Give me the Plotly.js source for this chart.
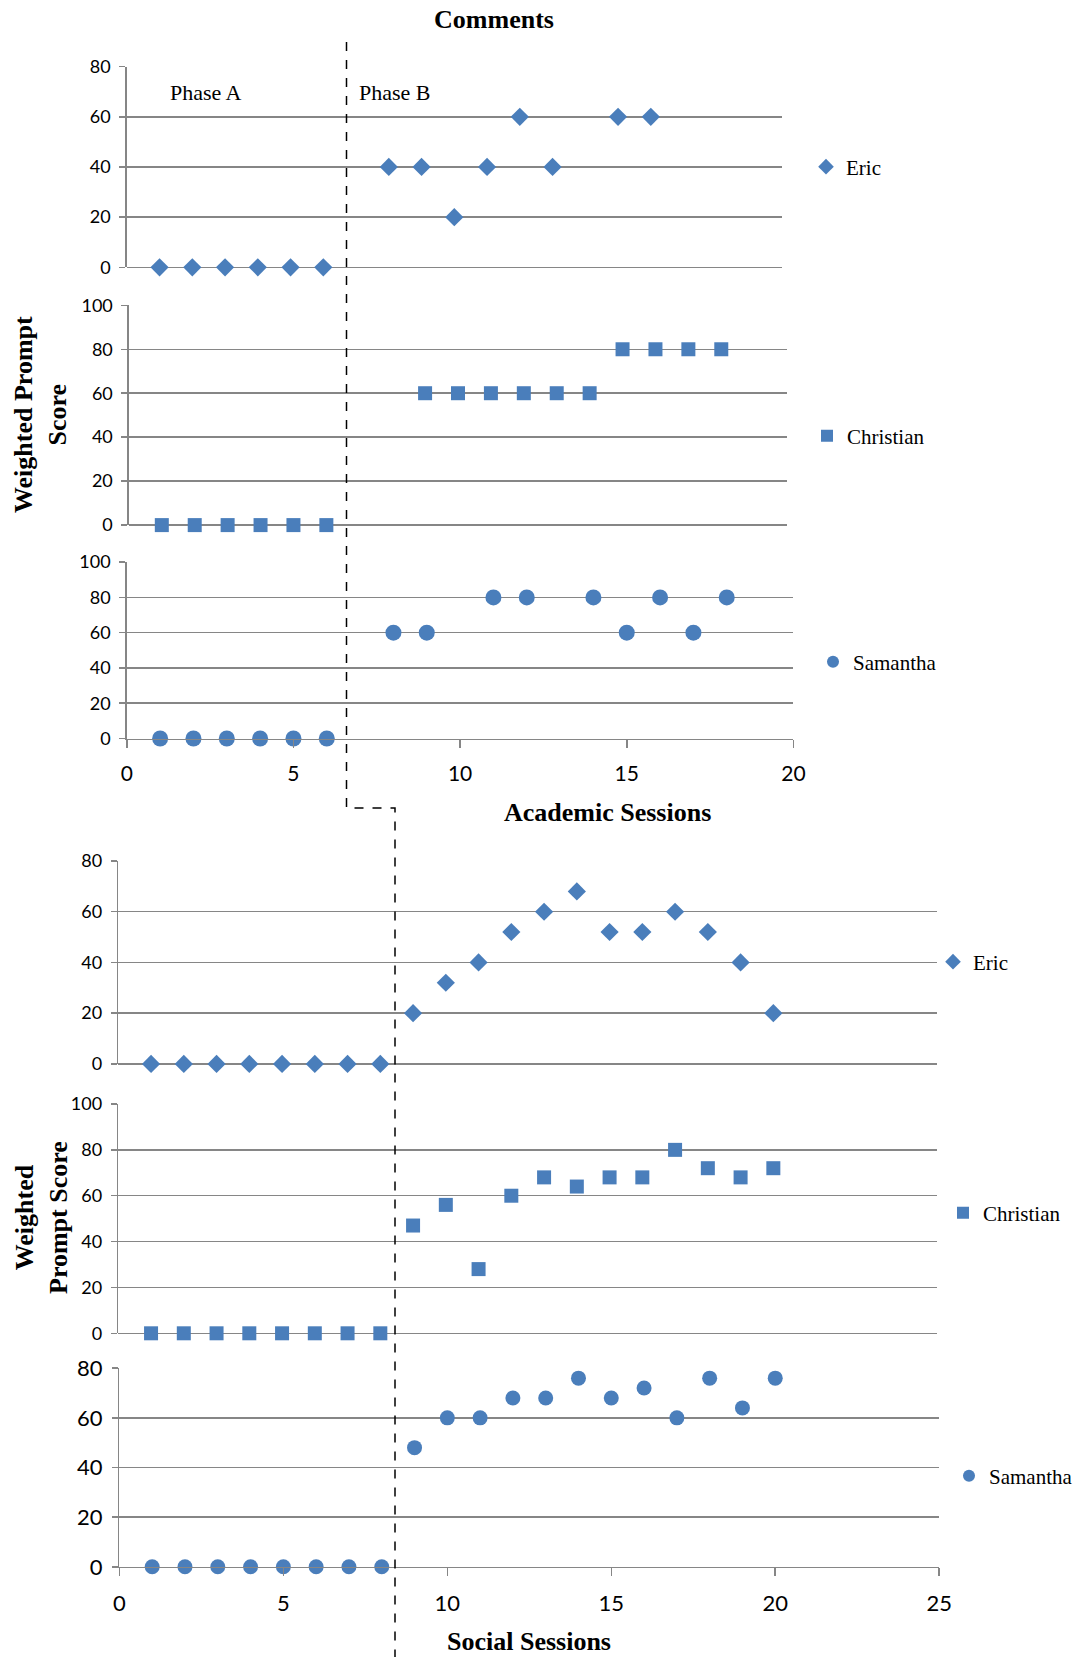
<!DOCTYPE html>
<html>
<head>
<meta charset="utf-8">
<script src="https://cdn.plot.ly/plotly-3.0.1.min.js"></script>
<style>html,body{margin:0;padding:0;background:#fff;}#chart{width:1084px;height:1657px;}</style>
</head>
<body>
<div id="chart"></div>
<script>
// ---------- DATA ----------
const names = ["Eric", "Christian", "Samantha"];
const academicSessionsEric = [1,2,3,4,5,6,8,9,10,11,12,13,15,16];
const academicEric = [0,0,0,0,0,0,40,40,20,40,60,40,60,60];
const academicSessionsChristian = [1,2,3,4,5,6,9,10,11,12,13,14,15,16,17,18];
const academicChristian = [0,0,0,0,0,0,60,60,60,60,60,60,80,80,80,80];
const academicSessionsSamantha = [1,2,3,4,5,6,8,9,11,12,14,15,16,17,18];
const academicSamantha = [0,0,0,0,0,0,60,60,80,80,80,60,80,60,80];

const socialSessions = [1,2,3,4,5,6,7,8,9,10,11,12,13,14,15,16,17,18,19,20];
const socialEric = [0,0,0,0,0,0,0,0,20,32,40,52,60,68,52,52,60,52,40,20];
const socialChristian = [0,0,0,0,0,0,0,0,47,56,28,60,68,64,68,68,80,72,68,72];
const socialSamantha = [0,0,0,0,0,0,0,0,48,60,60,68,68,76,68,72,60,76,64,76];

const academicXTicks = [0,5,10,15,20];
const socialXTicks = [0,5,10,15,20,25];

// ---------- LAYOUT HELPERS ----------
const W = 1084, H = 1657;
const px = v => v / W;
const py = v => 1 - v / H;
const BLUE = "#4a7ebb";
const GRID = "#868686";
const TICKFONT = "Lato, 'Noto Sans', sans-serif";
const SERIF = "'Liberation Serif', 'Times New Roman', serif";

function trace(x, y, symbol, size, xa, ya, name, leg) {
  return {
    type: "scatter", mode: "markers", x: x, y: y, name: name,
    xaxis: xa, yaxis: ya, legend: leg, cliponaxis: false,
    marker: {symbol: symbol, size: size, color: BLUE, line: {width: 0}},
    hoverinfo: "x+y"
  };
}

const data = [
  trace(academicSessionsEric, academicEric, "diamond", 14, "x", "y", names[0], "legend"),
  trace(academicSessionsChristian, academicChristian, "square", 14, "x2", "y2", names[1], "legend2"),
  trace(academicSessionsSamantha, academicSamantha, "circle", 16, "x3", "y3", names[2], "legend3"),
  trace(socialSessions, socialEric, "diamond", 14, "x4", "y4", names[0], "legend4"),
  trace(socialSessions, socialChristian, "square", 14, "x5", "y5", names[1], "legend5"),
  trace(socialSessions, socialSamantha, "circle", 15, "x6", "y6", names[2], "legend6")
];

function yax(d0, d1, anchor, maxv, fsize) {
  return {
    domain: [py(d1), py(d0)], anchor: anchor, range: [0, maxv], dtick: 20, tick0: 0,
    showgrid: true, gridcolor: GRID, gridwidth: 1.5,
    zeroline: true, zerolinecolor: GRID, zerolinewidth: 1.5,
    showline: true, linecolor: GRID, linewidth: 1.5,
    ticks: "outside", ticklen: 6, tickcolor: GRID, tickwidth: 1.5,
    ticklabelstandoff: 5,
    tickfont: {family: TICKFONT, size: fsize, color: "#000"}
  };
}
function xaxHidden(l, r, anchor, maxv) {
  return {
    domain: [px(l), px(r)], anchor: anchor, range: [0, maxv],
    showgrid: false, zeroline: false, showline: false, ticks: "", showticklabels: false
  };
}
function xaxShown(l, r, anchor, maxv, vals, fsize) {
  return {
    domain: [px(l), px(r)], anchor: anchor, range: [0, maxv],
    tickvals: vals, ticktext: vals.map(String),
    showgrid: false, zeroline: false, showline: true, linecolor: GRID, linewidth: 1.5,
    ticks: "outside", ticklen: 8, tickcolor: GRID, tickwidth: 1.5,
    ticklabelstandoff: 8,
    tickfont: {family: TICKFONT, size: fsize, color: "#000"}
  };
}
function leg(xl, yc) {
  return {
    x: px(xl), y: py(yc), xanchor: "left", yanchor: "middle",
    xref: "paper", yref: "paper",
    bgcolor: "rgba(0,0,0,0)", borderwidth: 0,
    font: {family: SERIF, size: 21, color: "#000"},
    itemsizing: "constant"
  };
}
function note(text, x, y, size, angle) {
  return {
    text: text, x: px(x), y: py(y), xref: "paper", yref: "paper",
    xanchor: "center", yanchor: "middle", showarrow: false,
    textangle: angle || 0,
    font: {family: SERIF, size: size, color: "#000"}
  };
}

const layout = {
  width: W, height: H,
  margin: {l: 0, r: 0, t: 0, b: 0},
  paper_bgcolor: "#fff", plot_bgcolor: "rgba(0,0,0,0)",
  showlegend: true,
  title: {
    text: "<b>Comments</b>", x: px(494), xanchor: "center", xref: "paper",
    y: py(19), yanchor: "middle", yref: "paper",
    font: {family: SERIF, size: 26, color: "#000"}
  },
  xaxis:  xaxHidden(126.8, 781.8, "y", 20),
  yaxis:  yax(66.6, 267.3, "x", 80, 18),
  xaxis2: xaxHidden(128.9, 787.1, "y2", 20),
  yaxis2: yax(305.3, 525.1, "x2", 100, 18),
  xaxis3: xaxShown(126.8, 793.4, "y3", 20, academicXTicks, 21),
  yaxis3: yax(562.1, 738.5, "x3", 100, 18),
  xaxis4: xaxHidden(118.3, 937.1, "y4", 25),
  yaxis4: yax(861, 1063.9, "x4", 80, 18),
  xaxis5: xaxHidden(118.3, 937.1, "y5", 25),
  yaxis5: yax(1104, 1333.3, "x5", 100, 18),
  xaxis6: xaxShown(119.4, 939.2, "y6", 25, socialXTicks, 22),
  yaxis6: yax(1368.2, 1566.8, "x6", 80, 22),
  legend:  leg(806, 167),
  legend2: leg(807, 436),
  legend3: leg(813, 662),
  legend4: leg(933, 962),
  legend5: leg(943, 1213),
  legend6: leg(949, 1476),
  annotations: [
    note("Phase A", 206, 92, 22),
    note("Phase B", 395, 92, 22),
    note("<b>Weighted Prompt<br>Score</b>", 40, 415, 26, -90),
    note("<b>Academic Sessions</b>", 607, 812, 26),
    note("<b>Weighted<br>Prompt Score</b>", 41, 1218, 26, -90),
    note("<b>Social Sessions</b>", 529, 1641, 26)
  ],
  shapes: [
    {type: "path", xref: "paper", yref: "paper",
     path: "M " + px(346.5) + " " + py(42) + " L " + px(346.5) + " " + py(808) +
           " L " + px(395) + " " + py(808) + " L " + px(395) + " " + py(1657),
     line: {color: "#000", width: 1.5, dash: "dash"}}
  ]
};

Plotly.newPlot("chart", data, layout, {displayModeBar: false, staticPlot: true});
</script>
</body>
</html>
